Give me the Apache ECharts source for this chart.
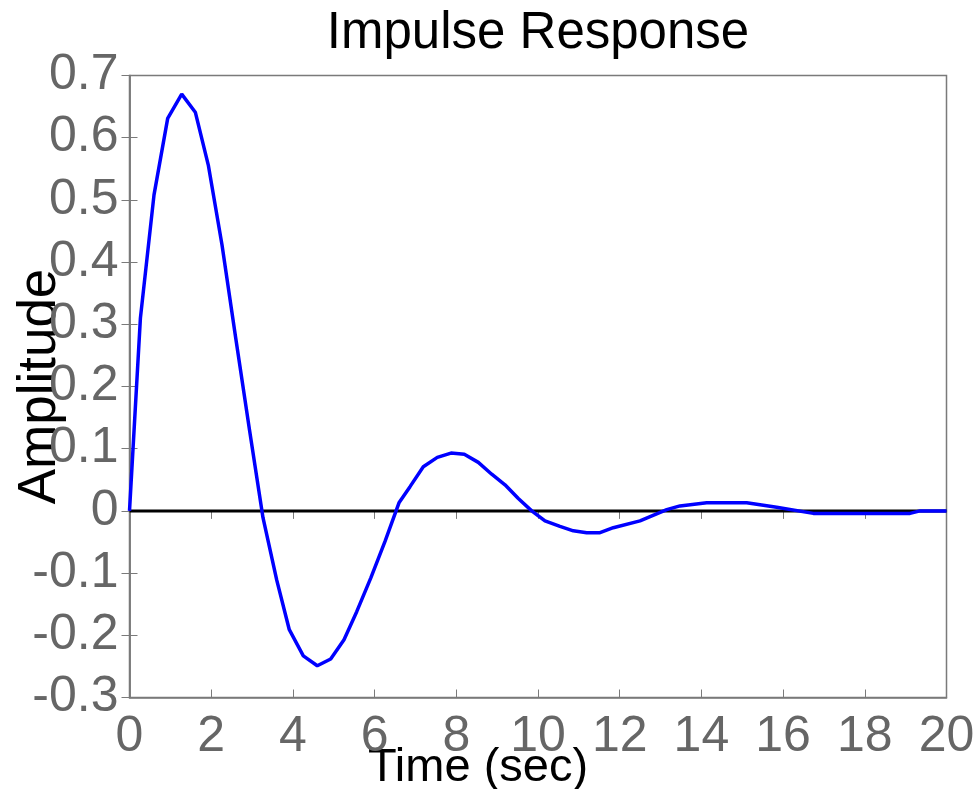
<!DOCTYPE html>
<html>
<head>
<meta charset="utf-8" />
<title>Impulse Response</title>
<script src="https://cdn.jsdelivr.net/npm/echarts@6/dist/echarts.min.js"></script>
<style>
html, body { margin: 0; padding: 0; background: #fff; }
#main { width: 978px; height: 789px; }
</style>
</head>
<body>
<div id="main"></div>
<script>
// values
var timeSec = [0, 0.267, 0.600, 0.935, 1.278, 1.611, 1.929, 2.264, 2.600, 2.938, 3.268, 3.603,
  3.912, 4.255, 4.597, 4.925, 5.251, 5.562, 5.905, 6.255, 6.597, 6.867, 7.192, 7.535,
  7.870, 8.196, 8.539, 8.867, 9.192, 9.518, 9.846, 10.171, 10.538, 10.864, 11.192, 11.518,
  11.843, 12.497, 13.151, 13.476, 14.130, 15.109, 15.843, 16.740, 19.107, 19.351, 20.0];
var amplitude = [0, 0.310, 0.508, 0.631, 0.670, 0.641, 0.556, 0.428, 0.278, 0.130, -0.011, -0.111,
  -0.191, -0.233, -0.249, -0.238, -0.207, -0.162, -0.108, -0.049, 0.013, 0.039, 0.071, 0.086,
  0.093, 0.091, 0.078, 0.059, 0.042, 0.020, 0.000, -0.016, -0.025, -0.032, -0.035, -0.035,
  -0.027, -0.016, 0.002, 0.008, 0.013, 0.013, 0.006, -0.004, -0.004, 0, 0];
var zeroLineX = [0, 20];
var xTicks = [0, 2, 4, 6, 8, 10, 12, 14, 16, 18, 20];
var yTicks = [-0.3, -0.2, -0.1, 0, 0.1, 0.2, 0.3, 0.4, 0.5, 0.6, 0.7];

var font = 'Liberation Sans';
var frameColor = '#7a7a7a';

var pts = timeSec.map(function (t, i) { return [t, amplitude[i]]; });
var zeroPts = zeroLineX.map(function (t) { return [t, 0]; });

function fmtY(v) {
  var r = Math.round(v * 10) / 10;
  return r === 0 ? '0' : r.toFixed(1);
}

var tickStyle = { show: true, inside: true, length: 8, lineStyle: { color: frameColor, width: 1 } };

var chart = echarts.init(document.getElementById('main'));
chart.setOption({
  animation: false,
  backgroundColor: '#fff',
  title: {
    text: 'Impulse Response',
    left: 533, top: 3, textAlign: 'center',
    textStyle: { fontFamily: font, fontSize: 51, fontWeight: 'normal', color: '#000' }
  },
  grid: {
    left: 129.5, right: 31.5, top: 75.5, bottom: 91.5,
    containLabel: false, outerBoundsMode: 'none',
    show: true, borderColor: frameColor, borderWidth: 1.5, backgroundColor: '#fff'
  },
  xAxis: [{
    type: 'value', min: xTicks[0], max: xTicks[xTicks.length - 1], interval: 2,
    position: 'bottom',
    name: 'Time (sec)', nameLocation: 'middle', nameGap: 47, nameMoveOverlap: false,
    nameTextStyle: { fontFamily: font, fontSize: 47, color: '#000', padding: [0, 120, 0, 0] },
    axisLine: { show: true, onZero: false, lineStyle: { color: frameColor, width: 1.5 } },
    axisTick: tickStyle,
    axisLabel: { fontFamily: font, fontSize: 50, color: '#666', margin: 15 },
    splitLine: { show: false }
  }, {
    type: 'value', min: xTicks[0], max: xTicks[xTicks.length - 1], interval: 2,
    position: 'top',
    axisLine: { show: true, lineStyle: { color: frameColor, width: 1.5 } },
    axisTick: tickStyle,
    axisLabel: { show: false },
    splitLine: { show: false }
  }],
  yAxis: [{
    type: 'value', min: yTicks[0], max: yTicks[yTicks.length - 1], interval: 0.1,
    position: 'left',
    name: 'Amplitude', nameLocation: 'middle', nameGap: 63, nameRotate: 90, nameMoveOverlap: false,
    nameTextStyle: { fontFamily: font, fontSize: 53, color: '#000' },
    axisLine: { show: true, onZero: false, lineStyle: { color: frameColor, width: 1.5 } },
    axisTick: tickStyle,
    axisLabel: { fontFamily: font, fontSize: 50, color: '#666', margin: 11, formatter: fmtY },
    splitLine: { show: false }
  }, {
    type: 'value', min: yTicks[0], max: yTicks[yTicks.length - 1], interval: 0.1,
    position: 'right',
    axisLine: { show: true, lineStyle: { color: frameColor, width: 1.5 } },
    axisTick: tickStyle,
    axisLabel: { show: false },
    splitLine: { show: false }
  }],
  series: [{
    type: 'line', data: zeroPts, symbol: 'none', silent: true,
    lineStyle: { color: '#000', width: 3 }, z: 2
  }, {
    type: 'line', data: pts, symbol: 'none',
    lineStyle: { color: '#0000ff', width: 3.5 }, z: 3
  }]
});
</script>
</body>
</html>
